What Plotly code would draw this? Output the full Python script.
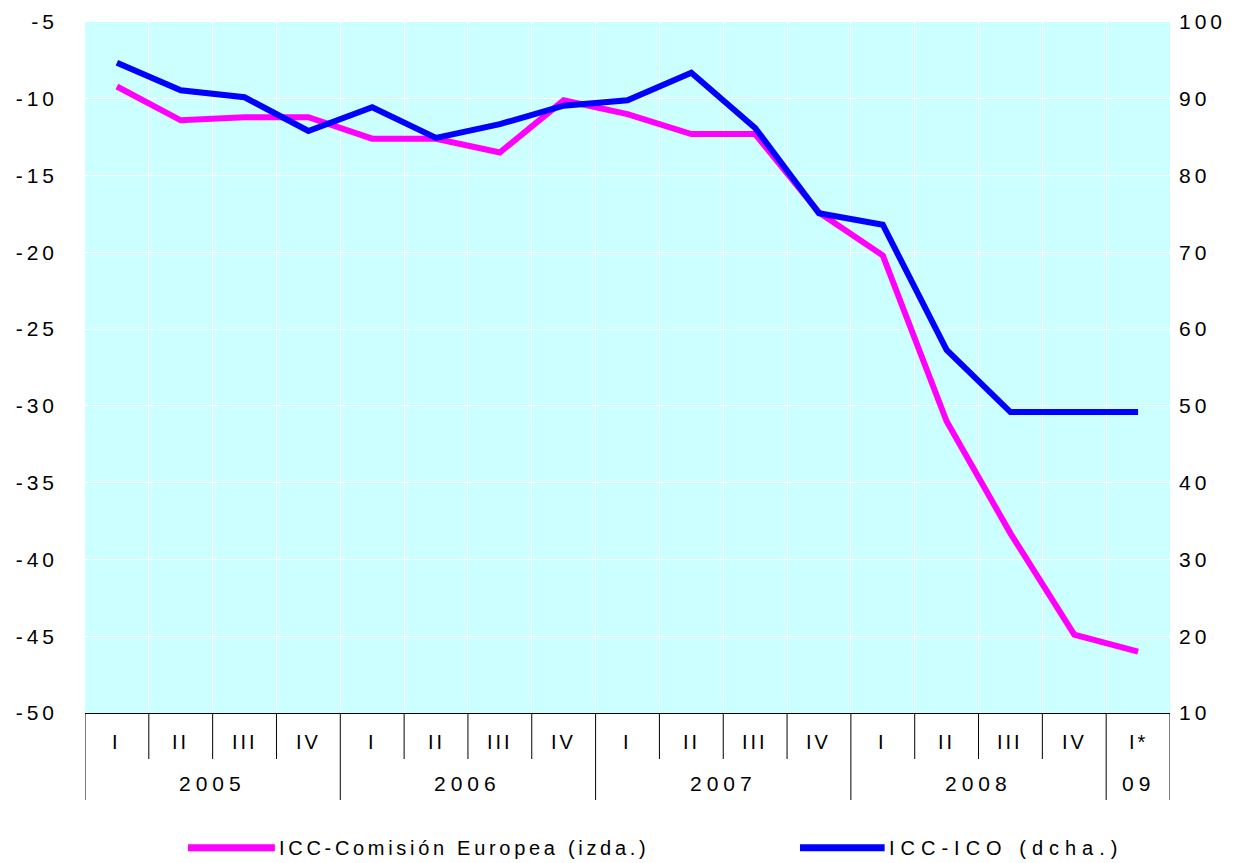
import plotly.graph_objects as go

quarters = ["I", "II", "III", "IV", "I", "II", "III", "IV", "I", "II", "III", "IV",
            "I", "II", "III", "IV", "I*"]
years = ["2005", "2006", "2007", "2008", "09"]
year_sizes = [4, 4, 4, 4, 1]

icc_ce = [-9.2, -11.4, -11.2, -11.2, -12.6, -12.6, -13.5, -10.1, -11.0, -12.3,
          -12.3, -17.4, -20.2, -31.0, -38.3, -44.9, -46.0]
icc_ico = [94.7, 91.1, 90.2, 85.8, 88.9, 84.9, 86.7, 89.1, 89.8, 93.4,
           86.2, 75.1, 73.6, 57.3, 49.2, 49.2, 49.2]

name_ce = "ICC-Comisión Europea (izda.)"
name_ico = "ICC-ICO (dcha.)"

left_ticks = [-5, -10, -15, -20, -25, -30, -35, -40, -45, -50]
right_ticks = [100, 90, 80, 70, 60, 50, 40, 30, 20, 10]

MAGENTA = "#FF00FF"
BLUE = "#0000FF"
FONT = "Liberation Sans, Arial, sans-serif"


def spaced(t, px):
    return f'<span style="letter-spacing:{px}px">{t}</span>'


x = list(range(len(quarters)))

fig = go.Figure()
fig.add_trace(go.Scatter(x=x, y=icc_ce, mode="lines", name=name_ce,
                         line=dict(color=MAGENTA, width=6), showlegend=False))
fig.add_trace(go.Scatter(x=x, y=icc_ico, mode="lines", name=name_ico, yaxis="y2",
                         line=dict(color=BLUE, width=6), showlegend=False))

n = len(quarters)
boundaries = [i - 0.5 for i in range(n + 1)]

# page body has an 8px margin: size and margins compensate for it
fig.update_layout(
    width=1235, height=855,
    margin=dict(l=77, r=73, t=14, b=150, autoexpand=False),
    paper_bgcolor="white",
    plot_bgcolor="#CCFFFF",
    font=dict(family=FONT, color="black"),
    xaxis=dict(range=[-0.5, n - 0.5], tickvals=boundaries, showticklabels=False,
               ticks="", showgrid=True, gridcolor="white", gridwidth=1,
               showline=True, linecolor="black", linewidth=1, zeroline=False),
    yaxis=dict(range=[-50, -5], tickvals=left_ticks,
               ticktext=[spaced(str(v), 4) for v in left_ticks],
               showgrid=True, gridcolor="white", gridwidth=1, zeroline=False,
               ticks="", ticklabelstandoff=26,
               tickfont=dict(size=21, family=FONT, color="black")),
    yaxis2=dict(range=[10, 100], tickvals=right_ticks,
                ticktext=[spaced(str(v), 4) for v in right_ticks],
                overlaying="y", side="right", showgrid=False, zeroline=False,
                ticks="", ticklabelstandoff=8,
                tickfont=dict(size=21, family=FONT, color="black")),
)

shapes = []
annotations = []

year_edges = [-0.5]
for s in year_sizes:
    year_edges.append(year_edges[-1] + s)
for b in boundaries:
    is_year = any(abs(b - e) < 1e-9 for e in year_edges)
    shapes.append(dict(type="line", xref="x", yref="paper", x0=b, x1=b,
                       y0=0, y1=-0.1259 if is_year else -0.0666,
                       line=dict(color="black", width=1)))

for i, q in enumerate(quarters):
    annotations.append(dict(x=i, y=-0.042, xref="x", yref="paper", text=spaced(q, 3),
                            showarrow=False, xanchor="center", yanchor="middle",
                            font=dict(size=20, family=FONT, color="black")))
for k, yname in enumerate(years):
    center = (year_edges[k] + year_edges[k + 1]) / 2
    annotations.append(dict(x=center, y=-0.1027, xref="x", yref="paper",
                            text=spaced(yname, 5),
                            showarrow=False, xanchor="center", yanchor="middle",
                            font=dict(size=21, family=FONT, color="black")))

legend_items = [(name_ce, MAGENTA, 0.0949, 0.175, 3.7),
                (name_ico, BLUE, 0.659, 0.737, 6)]
for name, col, x0, x1, ls in legend_items:
    shapes.append(dict(type="line", xref="paper", yref="paper", x0=x0, x1=x1,
                       y0=-0.195, y1=-0.195, line=dict(color=col, width=7)))
    annotations.append(dict(x=x1 + 0.002, y=-0.195, xref="paper", yref="paper",
                            text=spaced(name, ls), showarrow=False, xanchor="left",
                            yanchor="middle",
                            font=dict(size=20, family=FONT, color="black")))

fig.update_layout(shapes=shapes, annotations=annotations)

fig.write_html("out.html")
